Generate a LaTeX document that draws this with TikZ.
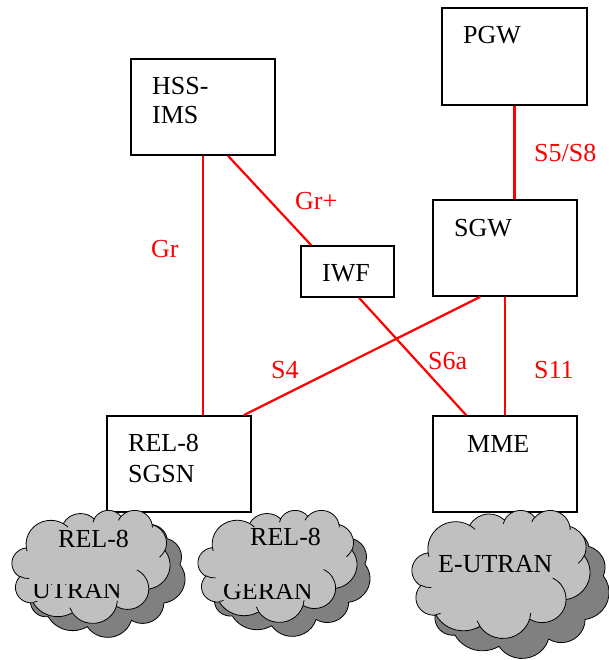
\documentclass[tikz,border=0pt]{standalone}
\usepackage{fontspec}
\setmainfont{Liberation Serif}
\usetikzlibrary{calc}
\definecolor{linkred}{RGB}{255,0,0}
\definecolor{cloudlight}{RGB}{192,192,192}
\definecolor{clouddark}{RGB}{128,128,128}
% elliptic arc given by radii, start angle and sweep measured as true angles
\tikzset{oarc/.style n args={4}{insert path={arc[x radius=#1,y radius=#2,
  start angle={atan2((#1)*sin(#3),(#2)*cos(#3))},
  delta angle={mod(atan2((#1)*sin((#3)+(#4)),(#2)*cos((#3)+(#4)))-atan2((#1)*sin(#3),(#2)*cos(#3))+720,360)}]}}}
% cloud outline in a 432 x 432 box; #1,#2 top left corner, #3 x #4 size, #5 fill
\newcommand\cloudbody[5]{%
  \begin{scope}[shift={(#1,#2)},x={#3pt/432},y={-#4pt/432}]
  \filldraw[fill=#5,draw=black,line width=0.8pt] (39,143.7)
    [oarc={67.53}{91.90}{-190.4875}{123.7805}]
    [oarc={53.33}{72.67}{-144.1024}{89.9452}]
    [oarc={43.65}{59.45}{-145.8079}{99.7230}]
    [oarc={48.57}{65.95}{-130.9861}{117.2417}]
    [oarc={53.33}{72.73}{-78.7089}{109.0269}]
    [oarc={67.75}{92.20}{-46.2673}{130.2690}]
    [oarc={57.85}{78.67}{0.6250}{114.0333}]
    [oarc={67.52}{92.15}{22.4516}{115.1726}]
    [oarc={77.20}{105.43}{66.2426}{75.7110}]
    [oarc={43.60}{59.18}{-274.9421}{146.7356}]
    [oarc={43.45}{59.45}{-246.8285}{152.5189}] -- cycle;
  \end{scope}}
% inner folds of the cloud
\newcommand\cloudfolds[4]{%
  \begin{scope}[shift={(#1,#2)},x={#3pt/432},y={-#4pt/432}]
  \draw[line width=0.8pt]
    (46.93,261.77) [oarc={43.45}{59.45}{86.7420}{26.4295}]
    (69.28,348.99) [oarc={43.60}{59.18}{73.6105}{11.4475}]
    (164.78,390.90) [oarc={67.52}{92.15}{137.6242}{14.0811}]
    (288.27,347.51) [oarc={67.52}{92.15}{6.4533}{15.9984}]
    (341.29,229.54) [oarc={57.85}{78.67}{-70.2924}{70.9174}]
    (417.98,153.54) [oarc={53.33}{72.73}{30.3180}{27.7515}]
    (383.24,54.26) [oarc={48.57}{65.95}{-13.7443}{14.8589}]
    (290.78,39.52) [oarc={48.57}{65.95}{-149.1815}{18.1954}]
    (221.41,47.20) [oarc={43.65}{59.45}{-163.4943}{17.6864}]
    (140.00,51.92) [oarc={67.53}{91.90}{-66.7070}{12.3194}]
    (41.27,157.89) [oarc={67.53}{91.90}{157.6544}{11.8582}];
  \end{scope}}
\begin{document}
\begin{tikzpicture}[x=1pt,y=-1pt,
  every node/.style={font=\fontsize{26}{29}\selectfont},
  box/.style={draw=black,line width=1.6pt,rectangle,inner sep=0pt},
  txt/.style={anchor=base west,inner sep=0pt,text=black},
  lbl/.style={anchor=base west,inner sep=0pt,text=linkred},
  link/.style={draw=linkred,line width=2.2pt}]
\useasboundingbox (0,0) rectangle (609,660);
% network elements
\node[box,minimum width=144pt,minimum height=96pt] (hss) at (203,107) {};
\node[box,minimum width=145pt,minimum height=97pt] (pgw) at (514.5,56.5) {};
\node[box,minimum width=144pt,minimum height=96pt] (sgw) at (505,248) {};
\node[box,minimum width=93pt,minimum height=51pt] (iwf) at (347.5,271.5) {};
\node[box,minimum width=144pt,minimum height=96pt] (sgsn) at (179,464) {};
\node[box,minimum width=144pt,minimum height=96pt] (mme) at (505,464) {};
% element names
\node[txt] (hsst1) at (152,95) {HSS-};
\node[txt] (hsst2) at (152,124) {IMS};
\node[txt] (pgwt) at (463,44) {PGW};
\node[txt] (sgwt) at (454,236) {SGW};
\node[txt] (iwft) at (322,281) {IWF};
\node[txt] (sgsnt1) at (128,451) {REL-8};
\node[txt] (sgsnt2) at (128,482) {SGSN};
\node[txt] (mmet) at (467,452) {MME};
% interfaces
\draw[link] (hss.south) -- (hss.south |- sgsn.north);
\draw[link] ($(hss.south)+(25,0)$) -- ($(iwf.north west)+(11,0)$);
\draw[link] (pgw.south) -- (pgw.south |- sgw.north);
\draw[link] ($(sgw.south west)+(48,0)$) -- ($(sgsn.north east)+(-8,0)$);
\draw[link] ($(iwf.south)+(11.5,0)$) -- ($(mme.north west)+(34,0)$);
\draw[link] (sgw.south) -- (sgw.south |- mme.north);
\node[lbl] (grl) at (151,257) {Gr};
\node[lbl] (grpl) at (295,210) {Gr+};
\node[lbl] (s5l) at (534,162) {S5/S8};
\node[lbl] (s4l) at (271,378) {S4};
\node[lbl] (s6l) at (428,369) {S6a};
\node[lbl] (s11l) at (534,378) {S11};
% radio access networks: shadow, cloud, folds
\cloudbody{27}{524}{158}{113}{clouddark}
\cloudbody{12}{510}{158}{113}{cloudlight}
\cloudfolds{12}{510}{158}{113}
\cloudbody{211}{524}{159}{112}{clouddark}
\cloudbody{198}{510}{159}{112}{cloudlight}
\cloudfolds{198}{510}{159}{112}
\cloudbody{431}{530}{178}{128}{clouddark}
\cloudbody{412}{510}{178}{128}{cloudlight}
\cloudfolds{412}{510}{178}{128}
\node[txt] (utrant1) at (58,547) {REL-8};
\node[txt] (gerant1) at (250,545) {REL-8};
\node[txt] (eutrant) at (438,572) {E-UTRAN};
\begin{scope}
  \clip (0,584) rectangle (400,620);
  \node[txt] (utrant2) at (32,598) {UTRAN};
  \node[txt] (gerant2) at (223,599) {GERAN};
\end{scope}
\end{tikzpicture}
\end{document}
